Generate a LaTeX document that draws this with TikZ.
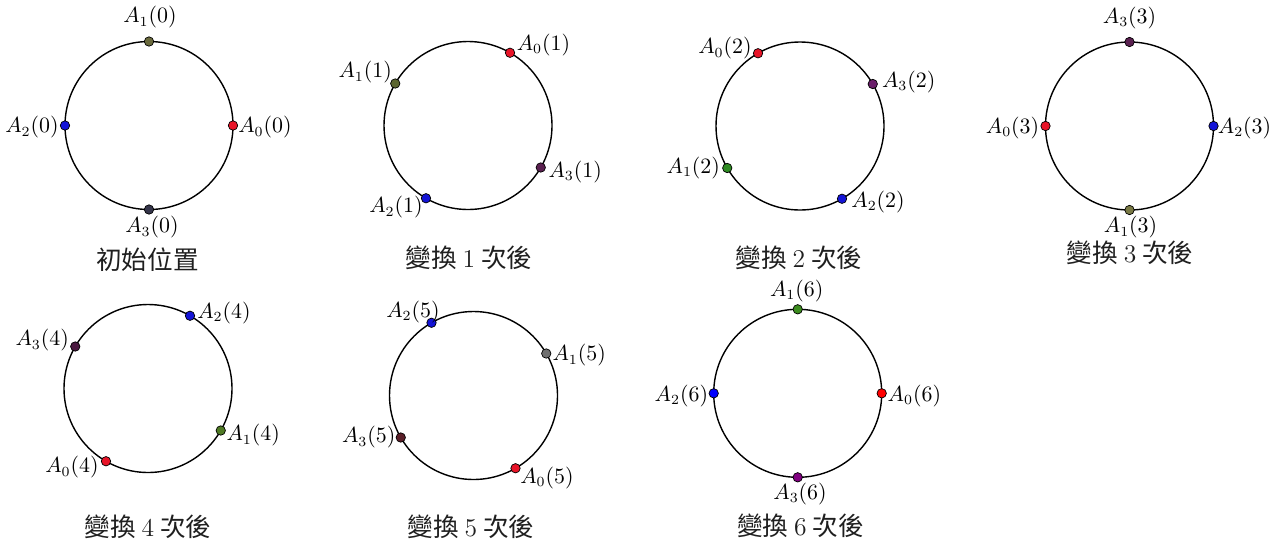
\documentclass[tikz,border=0pt]{standalone}
\usepackage{fontspec}
\newfontfamily\cjk{Noto Sans CJK TC}
\definecolor{cA0}{RGB}{232,20,40}
\definecolor{cA2}{RGB}{20,20,215}
\definecolor{oliveA}{RGB}{107,107,62}
\definecolor{oliveB}{RGB}{92,102,48}
\definecolor{greenA}{RGB}{46,139,34}
\definecolor{oliveC}{RGB}{122,122,69}
\definecolor{greenB}{RGB}{79,122,37}
\definecolor{grayA}{RGB}{112,112,112}
\definecolor{greenC}{RGB}{60,140,30}
\definecolor{darkA}{RGB}{53,53,74}
\definecolor{purpA}{RGB}{90,32,80}
\definecolor{purpB}{RGB}{106,30,106}
\definecolor{purpC}{RGB}{74,24,64}
\definecolor{brownA}{RGB}{90,30,40}
\definecolor{purpD}{RGB}{128,0,128}
\tikzset{
  dotpt/.style={circle, draw=black, line width=0.35pt, inner sep=0pt, minimum size=4.7pt},
  lbl/.style={font=\fontsize{10.5}{12}\selectfont, inner sep=0pt},
  captxt/.style={font=\cjk\fontsize{12.8}{15}\selectfont, inner sep=0pt, text=black!88},
  ring/.style={draw=black, line width=0.7pt}
}
% #1 name, #2 centre, #3 angle, #4 colour, #5 label, #6 dx, #7 dy
\newcommand\ptlab[7]{%
  \node[dotpt, fill=#4] (#1) at ([shift={(-#3:84)}]#2) {};
  \node[lbl] (#1l) at ([shift={(#6,#7)}]#1) {#5};
}
\begin{document}
\begin{tikzpicture}[x=0.5pt, y=-0.5pt]
\useasboundingbox (0,0) rectangle (1277,542);
% centres
\coordinate (c0) at (149,125.5);
\coordinate (c1) at (468,125.5);
\coordinate (c2) at (800,126);
\coordinate (c3) at (1129.5,126);
\coordinate (c4) at (148,388.5);
\coordinate (c5) at (473.5,395.5);
\coordinate (c6) at (797.7,393.3);
\foreach \c in {c0,c1,c2,c3,c4,c5,c6} {\draw[ring] (\c) circle[radius=84];}

% panel 0
\ptlab{p0a0}{c0}{0}{cA0}{$A_0(0)$}{32}{2}
\ptlab{p0a1}{c0}{90}{oliveA}{$A_1(0)$}{1}{-24}
\ptlab{p0a2}{c0}{180}{cA2}{$A_2(0)$}{-33}{2}
\ptlab{p0a3}{c0}{270}{darkA}{$A_3(0)$}{3}{18}
\node[captxt] (t0) at (147.5,260) {初始位置};

% panel 1
\ptlab{p1a0}{c1}{60}{cA0}{$A_0(1)$}{33.5}{-8}
\ptlab{p1a1}{c1}{150}{oliveB}{$A_1(1)$}{-30}{-11}
\ptlab{p1a2}{c1}{240}{cA2}{$A_2(1)$}{-30}{9}
\ptlab{p1a3}{c1}{330}{purpA}{$A_3(1)$}{34.5}{4.5}
\node[captxt] (t1) at (469,258) {變換 {\rmfamily 1} 次後};

% panel 2
\ptlab{p2a0}{c2}{120}{cA0}{$A_0(2)$}{-33}{-5}
\ptlab{p2a1}{c2}{210}{greenA}{$A_1(2)$}{-34}{0}
\ptlab{p2a2}{c2}{300}{cA2}{$A_2(2)$}{36}{3}
\ptlab{p2a3}{c2}{30}{purpB}{$A_3(2)$}{36}{-2}
\node[captxt] (t2) at (799,258) {變換 {\rmfamily 2} 次後};

% panel 3
\ptlab{p3a0}{c3}{180}{cA0}{$A_0(3)$}{-33}{2}
\ptlab{p3a1}{c3}{270}{oliveC}{$A_1(3)$}{1}{17.5}
\ptlab{p3a2}{c3}{0}{cA2}{$A_2(3)$}{31}{2}
\ptlab{p3a3}{c3}{90}{purpA}{$A_3(3)$}{0}{-24}
\node[captxt] (t3) at (1130,253) {變換 {\rmfamily 3} 次後};

% panel 4
\ptlab{p4a0}{c4}{240}{cA0}{$A_0(4)$}{-34}{6}
\ptlab{p4a1}{c4}{330}{greenB}{$A_1(4)$}{32.5}{5}
\ptlab{p4a2}{c4}{60}{cA2}{$A_2(4)$}{34}{-3}
\ptlab{p4a3}{c4}{150}{purpC}{$A_3(4)$}{-33}{-6}
\node[captxt] (t4) at (148,527) {變換 {\rmfamily 4} 次後};

% panel 5
\ptlab{p5a0}{c5}{300}{cA0}{$A_0(5)$}{31.5}{9.5}
\ptlab{p5a1}{c5}{30}{grayA}{$A_1(5)$}{33}{2}
\ptlab{p5a2}{c5}{120}{cA2}{$A_2(5)$}{-18.5}{-11}
\ptlab{p5a3}{c5}{210}{brownA}{$A_3(5)$}{-32}{0}
\node[captxt] (t5) at (471,527) {變換 {\rmfamily 5} 次後};

% panel 6
\ptlab{p6a0}{c6}{0}{red}{$A_0(6)$}{32.7}{2.7}
\ptlab{p6a1}{c6}{90}{greenC}{$A_1(6)$}{-1}{-18.3}
\ptlab{p6a2}{c6}{180}{blue}{$A_2(6)$}{-32.3}{2.7}
\ptlab{p6a3}{c6}{270}{purpD}{$A_3(6)$}{2.3}{16.7}
\node[captxt] (t6) at (800.5,526) {變換 {\rmfamily 6} 次後};
\end{tikzpicture}
\end{document}
